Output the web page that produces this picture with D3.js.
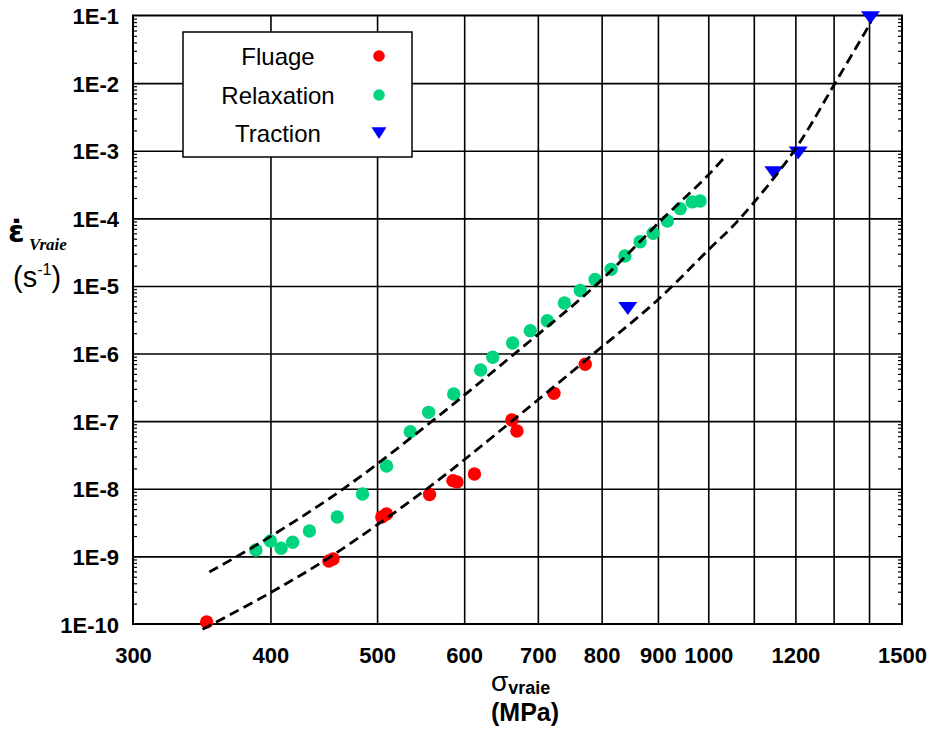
<!DOCTYPE html>
<html><head><meta charset="utf-8">
<script src="https://cdn.jsdelivr.net/npm/d3@7"></script>
<style>body{margin:0;background:#fff}svg{display:block}</style>
</head><body>
<svg id="c" width="930" height="731"></svg>
<script>
// ---- data ----
const fluageStress = [350,452,456,505,510,558,586,591,613,663,670,724,773];
const fluageRate   = [1.07e-10,8.55e-10,9.14e-10,3.82e-9,4.24e-9,8.22e-9,1.32e-8,1.26e-8,1.65e-8,1.04e-7,7.15e-8,2.58e-7,6.93e-7];
const relaxStress  = [388,400,409,419,434,460,485,510,536,557,587,621,637,664,689,714,740,765,789,816,840,867,891,918,943,967,983];
const relaxRate    = [1.24e-9,1.69e-9,1.32e-9,1.62e-9,2.37e-9,3.82e-9,8.37e-9,2.17e-8,6.98e-8,1.35e-7,2.52e-7,5.71e-7,8.81e-7,1.43e-6,2.18e-6,3.06e-6,5.60e-6,8.57e-6,1.25e-5,1.76e-5,2.77e-5,4.51e-5,6.01e-5,9.14e-5,1.39e-4,1.75e-4,1.80e-4];
const tractionStress = [845,1147,1207,1404];
const tractionRate   = [5.0e-6,5.1e-4,1.0e-3,1.0e-1];
const fitRelaxStress = [352,393,466,561,667,789,910,1000,1039];
const fitRelaxRate   = [5.87e-10,1.65e-9,1e-8,1e-7,1e-6,1e-5,1e-4,4.37e-4,8.64e-4];
const fitFluageStress = [347,401,454,555,663,787,898,1000,1069,1197,1304,1406];
const fitFluageRate   = [8.35e-11,2.97e-10,1e-9,1e-8,1e-7,1e-6,6.05e-6,3.4e-5,1e-4,1e-3,1e-2,8.0e-2];
const xTickValues = [300,400,500,600,700,800,900,1000,1200,1500];
const xGridValues = [400,500,600,700,800,900,1000,1100,1200,1300,1400];
const yTickValues = [1e-10,1e-9,1e-8,1e-7,1e-6,1e-5,1e-4,1e-3,1e-2,1e-1];
const yTickLabels = ["1E-10","1E-9","1E-8","1E-7","1E-6","1E-5","1E-4","1E-3","1E-2","1E-1"];
const legendLabels = ["Fluage","Relaxation","Traction"];

// ---- layout ----
const L = 133, R = 902, T = 15.5, B = 624;
const FONT = "'Liberation Sans', Arial, sans-serif";
const RED = "#ff0000", GREEN = "#00d47f", BLUE = "#0000ff";

const svg = d3.select("#c");
const x = d3.scaleLog().domain([300,1500]).range([L,R]);
const y = d3.scaleLog().domain([1e-10,1e-1]).range([B,T]);

// gridlines
svg.append("g").attr("transform",`translate(0,${B})`)
  .call(d3.axisBottom(x).tickValues(xGridValues).tickSize(-(B-T)).tickFormat(""))
  .call(g=>g.select(".domain").remove())
  .call(g=>g.selectAll("line").attr("stroke","#000").attr("stroke-width",1.6));
svg.append("g").attr("transform",`translate(${L},0)`)
  .call(d3.axisLeft(y).tickValues(yTickValues.slice(1,-1)).tickSize(-(R-L)).tickFormat(""))
  .call(g=>g.select(".domain").remove())
  .call(g=>g.selectAll("line").attr("stroke","#000").attr("stroke-width",1.6));

// minor ticks on y (inside, both sides)
const minor = y.ticks().filter(v => Math.abs(Math.log10(v) - Math.round(Math.log10(v))) > 1e-6);
svg.append("g").attr("transform",`translate(${L},0)`)
  .call(d3.axisLeft(y).tickValues(minor).tickSize(-4).tickFormat(""))
  .call(g=>g.select(".domain").remove())
  .call(g=>g.selectAll("line").attr("stroke","#000").attr("stroke-width",1.2));
svg.append("g").attr("transform",`translate(${R},0)`)
  .call(d3.axisRight(y).tickValues(minor).tickSize(-4).tickFormat(""))
  .call(g=>g.select(".domain").remove())
  .call(g=>g.selectAll("line").attr("stroke","#000").attr("stroke-width",1.2));

// tick labels
svg.append("g").attr("transform",`translate(0,${B})`)
  .call(d3.axisBottom(x).tickValues(xTickValues).tickSize(0).tickPadding(0).tickFormat(d3.format("d")))
  .call(g=>g.select(".domain").remove())
  .call(g=>g.selectAll("text").attr("dy",null).attr("y",39).attr("fill","#000")
      .attr("font-family",FONT).attr("font-size",22).attr("font-weight","bold"));
svg.append("g").attr("transform",`translate(${L},0)`)
  .call(d3.axisLeft(y).tickValues(yTickValues).tickSize(0).tickPadding(0)
      .tickFormat((d,i)=>yTickLabels[i]))
  .call(g=>g.select(".domain").remove())
  .call(g=>g.selectAll("text").attr("dy",null).attr("x",-14).attr("y",8).attr("fill","#000")
      .attr("font-family",FONT).attr("font-size",22).attr("font-weight","bold"));

// frame
svg.append("rect").attr("x",L).attr("y",T).attr("width",R-L).attr("height",B-T)
  .attr("fill","none").attr("stroke","#000").attr("stroke-width",2);

// markers
const tri = "M-9.5,-4.3L9.5,-4.3L0,8.7Z";
svg.append("g").selectAll("circle").data(d3.zip(relaxStress,relaxRate)).join("circle")
  .attr("cx",d=>x(d[0])).attr("cy",d=>y(d[1])).attr("r",6.7).attr("fill",GREEN);
svg.append("g").selectAll("circle").data(d3.zip(fluageStress,fluageRate)).join("circle")
  .attr("cx",d=>x(d[0])).attr("cy",d=>y(d[1])).attr("r",6.7).attr("fill",RED);
svg.append("g").selectAll("path").data(d3.zip(tractionStress,tractionRate)).join("path")
  .attr("d",tri).attr("transform",d=>`translate(${x(d[0])},${y(d[1])})`).attr("fill",BLUE);

// fitted dashed curves
const line = d3.line().x(d=>x(d[0])).y(d=>y(d[1])).curve(d3.curveCatmullRom.alpha(0.5));
[[fitRelaxStress,fitRelaxRate],[fitFluageStress,fitFluageRate]].forEach(([s,r])=>{
  svg.append("path").attr("d",line(d3.zip(s,r))).attr("fill","none")
    .attr("stroke","#000").attr("stroke-width",2.8).attr("stroke-dasharray","10,5.5");
});

// legend
const lg = svg.append("g");
lg.append("rect").attr("x",183).attr("y",32).attr("width",229).attr("height",125)
  .attr("fill","#fff").attr("stroke","#000").attr("stroke-width",1.5);
const ly = [56,95,133];
legendLabels.forEach((t,i)=>{
  lg.append("text").attr("x",278).attr("y",ly[i]+8.5).attr("text-anchor","middle")
    .attr("font-family",FONT).attr("font-size",24).attr("fill","#000").text(t);
});
lg.append("circle").attr("cx",379).attr("cy",ly[0]).attr("r",5.8).attr("fill",RED);
lg.append("circle").attr("cx",379).attr("cy",ly[1]).attr("r",5.8).attr("fill",GREEN);
lg.append("path").attr("d","M-7.5,-5.8L7.5,-5.8L0,6Z").attr("transform",`translate(379,${ly[2]})`).attr("fill",BLUE);

// y-axis title
svg.append("text").attr("x",8).attr("y",242).attr("font-family","'DejaVu Sans', sans-serif").attr("font-size",30)
  .attr("font-weight","bold").attr("fill","#000").text("\u03B5\u0307");
svg.append("text").attr("x",29).attr("y",250).attr("font-family","'Liberation Serif', 'Times New Roman', serif")
  .attr("font-size",17).attr("font-weight","bold").attr("font-style","italic").attr("fill","#000").text("Vraie");
const sU = svg.append("text").attr("x",13).attr("y",287).attr("font-family",FONT).attr("font-size",29).attr("fill","#000");
sU.append("tspan").text("(s");
sU.append("tspan").attr("font-size",16).attr("dy",-12).text("-1");
sU.append("tspan").attr("dy",12).text(")");

// x-axis title
const xt = svg.append("text").attr("x",491).attr("y",691).attr("font-family",FONT).attr("fill","#000");
xt.append("tspan").attr("font-size",28).text("σ");
xt.append("tspan").attr("font-size",18).attr("font-weight","bold").attr("dy",3).text("vraie");
svg.append("text").attr("x",491).attr("y",721).attr("font-family",FONT).attr("font-size",25)
  .attr("font-weight","bold").attr("fill","#000").text("(MPa)");
</script>
</body></html>
